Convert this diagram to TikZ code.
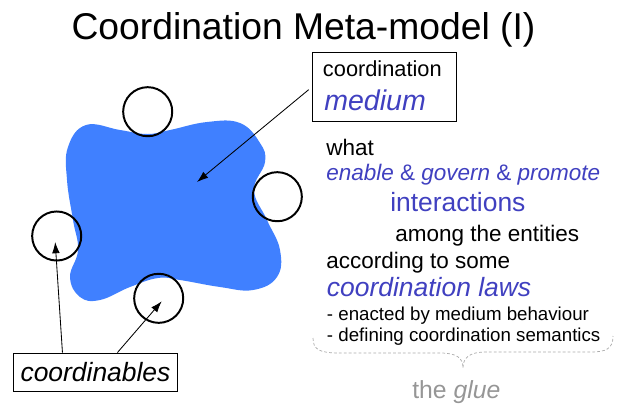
\documentclass[tikz,border=0pt]{standalone}
\usepackage{fontspec}
\setmainfont{Liberation Sans}
\usepackage{xcolor}
\usetikzlibrary{positioning,arrows.meta,calc}
\definecolor{lawblue}{RGB}{64,64,192}
\definecolor{blobblue}{RGB}{64,128,255}
\definecolor{gluegray}{RGB}{150,150,150}
\newcommand{\blueit}[1]{\textcolor{lawblue}{\textit{#1}}}

\begin{document}
\begin{tikzpicture}[x=0.025cm, y=-0.025cm,
    txt/.style={anchor=base west, inner sep=0pt, font=\fontsize{16}{19}\selectfont},
    small/.style={txt, font=\fontsize{13.3}{16}\selectfont},
    big/.style={txt, font=\fontsize{18.8}{22}\selectfont},
    agent/.style={circle, draw, line width=1.4pt, minimum size=34.9pt, inner sep=0pt},
    labelbox/.style={draw, line width=0.7pt, inner sep=0pt},
    pointer/.style={-{Latex[length=8pt,width=5.5pt]}, line width=0.6pt}]
    \useasboundingbox (0,0) rectangle (624,403);

    % Title
    \node[anchor=base, inner sep=0pt, font=\fontsize{26.5}{32}\selectfont] (title) at (303.5,39) {Coordination Meta-model (I)};

    % The medium
    \fill[blobblue] plot[smooth cycle, tension=0.7] coordinates {
        (86,125) (120,130) (147,134) (170,130) (207,122) (240,123) (260,143)
        (265,162) (254,190) (267,220) (280,250) (277,277) (253,290) (220,287)
        (180,280) (158,278) (130,287) (100,300) (80,297) (70,277) (78,250)
        (73,220) (67,180) (68,147)};

    % Coordinables
    \node[agent] (topagent) at (147.7,111.7) {};
    \node[agent] (rightagent) at (277.3,196.7) {};
    \node[agent] (leftagent) at (56.7,236) {};
    \node[agent] (bottomagent) at (158.7,298.3) {};

    % Medium label
    \node[labelbox, anchor=north west, minimum width=102.4pt, minimum height=49pt] (medium) at (312,52) {};
    \node[txt, font=\fontsize{15.5}{18}\selectfont] (coordword) at ($(medium.north west)+(10.7,24.7)$) {coordination};
    \node[txt, font=\fontsize{20.3}{24}\selectfont] (mediumword) at ($(medium.north west)+(12,58)$) {\blueit{medium}};
    \coordinate (mediumtip) at (197,182);
    \draw[pointer, shorten <=3pt] (medium.west) -- (mediumtip);

    % Coordinables label
    \node[labelbox, inner xsep=2pt, minimum width=116pt, minimum height=27.7pt, font=\fontsize{18.8}{22}\selectfont\itshape] (coordinables) at (95.5,372.5) {coordinables};
    \draw[pointer] ($(coordinables.north west)+(49,0)$) -- ($(leftagent)+(-1.5,6)$);
    \draw[pointer] ($(coordinables.north west)+(104,0)$) -- ($(bottomagent)+(3,3)$);

    % Text on the right
    \node[txt] (what) at (326,155) {what};
    \node[txt] (enable) at (326,180) {\blueit{enable} \textcolor{lawblue}{\&} \blueit{govern} \textcolor{lawblue}{\&} \blueit{promote}};
    \node[big] (interactions) at (390,211.7) {\textcolor{lawblue}{interactions}};
    \node[txt] (among) at (395,241) {among the entities};
    \node[txt] (according) at (326,268) {according to some};
    \node[big] (laws) at (326.7,296.7) {\blueit{coordination laws}};
    \node[small] (enacted) at (326.7,320) {- enacted by medium behaviour};
    \node[small] (defining) at (326.7,341.7) {- defining coordination semantics};

    % The glue
    \draw[gluegray!80, line width=0.5pt, dash pattern=on 2pt off 1.5pt]
        (313,338) .. controls (313,350) and (320,353) .. (340,353) -- (440,353)
        .. controls (457,353) and (463,358) .. (463,368)
        .. controls (463,358) and (469,352) .. (486,352) -- (590,352)
        .. controls (606,352) and (613,349) .. (613,336);
    \node[txt, font=\fontsize{17.6}{21}\selectfont, text=gluegray] (glue) at (412,398) {the \textit{glue}};
\end{tikzpicture}
\end{document}
